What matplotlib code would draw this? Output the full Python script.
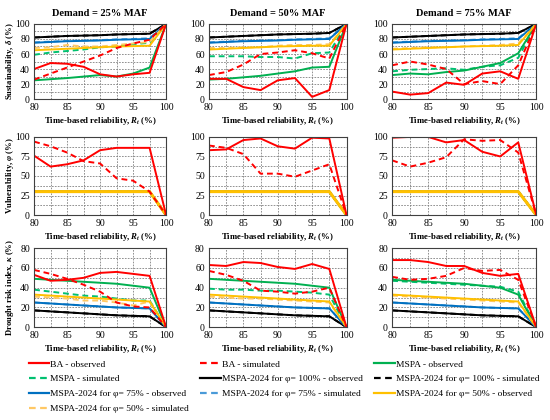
import numpy as np
import matplotlib
matplotlib.use('Agg')
import matplotlib.pyplot as plt
from matplotlib.lines import Line2D

plt.rcParams['font.family'] = ['Liberation Serif', 'DejaVu Serif']
plt.rcParams['mathtext.fontset'] = 'custom'
plt.rcParams['mathtext.rm'] = 'Liberation Serif:bold'
plt.rcParams['mathtext.it'] = 'Liberation Serif:italic:bold'
plt.rcParams['mathtext.bf'] = 'Liberation Serif:bold'

# reliability points (x axis)
rt = [80, 82.5, 85, 87.5, 90, 92.5, 95, 97.5, 100]
demands = ["25%", "50%", "75%"]

# ---- Sustainability (row 1), one list per demand ----
sus_ba_obs = [
    [40, 48, 47, 43, 33, 30, 33, 35, 100],
    [27, 27, 16, 12, 25, 28, 3, 12, 100],
    [10, 6, 8, 22, 19, 34, 37, 27, 100],
]
sus_ba_sim = [
    [26, 34, 42, 50, 58, 68, 74, 79, 100],
    [32, 36, 46, 60, 62, 65, 61, 54, 100],
    [45, 50, 46, 40, 20, 24, 20, 45, 100],
]
sus_mspa_obs = [
    [25, 26.5, 28, 30, 32, 30, 34, 42, 100],
    [26, 27, 29, 31, 34, 37, 42, 43, 100],
    [32, 34, 33, 36, 38, 43, 48, 61, 100],
]
sus_mspa_sim = [
    [59, 62, 64, 66, 69, 70, 73, 75, 100],
    [57, 57, 57, 56, 56, 54, 61, 62, 100],
    [37, 39, 40, 41, 39, 43, 45, 55, 100],
]
sus_p100_obs = [
    [82, 83, 84, 84.5, 85, 86, 86.5, 87, 100],
    [82, 83, 84, 85, 86, 86.5, 87, 88, 100],
    [82, 83, 84, 85, 86, 86.5, 87, 88, 100],
]
sus_p100_sim = [
    [82, 83, 84, 84.5, 85, 86, 86.5, 87, 100],
    [82, 83, 84, 85, 86, 86.5, 87, 88, 100],
    [82, 83, 84, 85, 86, 86.5, 87, 88, 100],
]
sus_p75_obs = [
    [75, 76, 77, 77.5, 78, 79, 79.5, 80, 100],
    [75, 76, 77, 77.5, 78, 79, 79.5, 80, 100],
    [75, 76, 77, 77.5, 78, 79, 79.5, 80, 100],
]
sus_p75_sim = [
    [75.5, 76.5, 77.5, 78, 78.5, 79.5, 80, 81, 100],
    [75.5, 76.5, 77.5, 78, 78.5, 79.5, 80, 81, 100],
    [75.5, 76.5, 77.5, 78, 78.5, 79.5, 80, 81, 100],
]
sus_p50_obs = [
    [65, 66, 67, 68, 69, 70, 70.5, 71, 100],
    [66, 67, 68, 69, 70, 70.5, 71, 71, 100],
    [66, 67, 68, 69, 70, 70.5, 71, 72, 100],
]
sus_p50_sim = [
    [68, 69, 72, 70, 70, 72, 74, 76, 100],
    [68, 68, 69, 69, 71, 72, 72, 73, 100],
    [67, 68, 69, 69, 70, 71, 72, 74, 100],
]

# ---- Vulnerability (row 2) ----
vul_ba_obs = [
    [76, 62, 65, 70, 83, 86, 86, 86, 0],
    [83, 84, 96, 98, 88, 85, 99, 98, 0],
    [99, 100, 100, 93, 96, 81, 75, 93, 0],
]
vul_ba_sim = [
    [94, 88, 80, 69, 66, 47, 44, 30, 0],
    [89, 86, 78, 53, 53, 49, 57, 65, 0],
    [70, 62, 67, 74, 97, 95, 96, 80, 0],
]
vul_mspa = [30, 30, 30, 30, 30, 30, 30, 30, 0]

# ---- Drought risk index (row 3) ----
dri_ba_obs = [
    [53, 47, 48, 50, 55, 56, 54, 52, 0],
    [63, 62, 66, 65, 61, 59, 64, 59, 0],
    [68, 68, 66, 62, 62, 55, 52, 54, 0],
]
dri_ba_sim = [
    [58, 54, 49, 43, 36, 25, 21, 20, 0],
    [57, 53, 47, 37, 36, 34, 36, 40, 0],
    [51, 48, 49, 52, 60, 57, 58, 48, 0],
]
dri_mspa_obs = [
    [49, 48, 47, 46, 45, 44, 42, 40, 0],
    [49, 48, 47, 46, 45, 44, 42, 40, 0],
    [48, 47, 46, 45, 44, 42, 40, 33, 0],
]
dri_mspa_sim = [
    [38, 36, 34, 32, 31, 29, 27, 27, 0],
    [39, 38, 38, 37, 37, 36, 35, 33, 0],
    [47, 46, 45, 44, 43, 42, 41, 36, 0],
]
dri_p100 = [17, 16, 15, 14, 13, 12, 11.5, 11, 0]
dri_p75 = [25, 24, 23, 22, 21, 20, 19.5, 19, 0]
dri_p50_obs = [33, 32, 31, 30, 29, 28, 27, 26, 0]
dri_p50_sim = [
    [31, 30, 29, 27, 27, 25, 22, 26, 0],
    [31, 30, 29, 29, 28, 27, 26, 25, 0],
    [32, 31, 30, 29, 28, 27, 26, 25, 0],
]

RED = "#FF0000"
GREEN = "#00B050"
BLACK = "#000000"
BLUE = "#0070C0"
ORANGE = "#FFC000"
GREEN_D = "#00C070"
BLUE_D = "#4A9AD8"
ORANGE_D = "#FFC864"

labels = [
    "BA - observed", "BA - simulated", "MSPA - observed", "MSPA - simulated",
    "MSPA-2024 for φ= 100% - observed", "MSPA-2024 for φ= 100% - simulated",
    "MSPA-2024 for φ= 75% - observed", "MSPA-2024 for φ= 75% - simulated",
    "MSPA-2024 for φ= 50% - observed", "MSPA-2024 for φ= 50% - simulated",
]
styles = [
    (RED, "-"), (RED, "--"), (GREEN, "-"), (GREEN_D, "--"),
    (BLACK, "-"), (BLACK, "--"), (BLUE, "-"), (BLUE_D, "--"),
    (ORANGE, "-"), (ORANGE_D, "--"),
]

fig = plt.figure(figsize=(5.5, 4.2), dpi=100)

lefts = [0.062, 0.380, 0.713]
widths = [0.240, 0.250, 0.262]
rows = [(0.764, 0.179), (0.488, 0.186), (0.221, 0.188)]


def draw(ax, series, top_lw=1.4):
    # MSPA first, then MSPA-2024 (orange on top), BA on top of everything
    for i in [3, 2, 5, 4, 7, 6, 9, 8, 1, 0]:
        c, ls = styles[i]
        lw = top_lw if i == 8 else 1.4
        ax.plot(rt, series[i], color=c, linestyle=ls, linewidth=lw,
                dashes=(3, 2) if ls == "--" else (None, None))


def style_ax(ax, ymax, ystep, ygrid, ylabel, col):
    ax.set_xlim(80, 100)
    ax.set_ylim(0, ymax)
    ax.set_xticks([80, 85, 90, 95, 100])
    ax.set_xticks(np.arange(80, 100.1, 2.5), minor=True)
    ax.set_yticks(np.arange(0, ymax + 0.1, ystep))
    ax.set_yticks(np.arange(0, ymax + 0.1, ygrid), minor=True)
    ax.grid(which="both", color="#808080", linestyle=(0, (2, 1.5)), linewidth=0.6)
    ax.set_axisbelow(True)
    ax.tick_params(which="both", length=0, labelsize=7, pad=3)
    for s in ax.spines.values():
        s.set_color("#404040")
        s.set_linewidth(0.8)
    ax.set_xlabel("Time-based reliability, $R_t$ (%)",
                  fontsize=6.3, fontweight="bold", labelpad=2)
    if col == 0:
        ax.set_ylabel(ylabel, fontsize=6.2, fontweight="bold")
        ax.yaxis.set_label_coords(-0.135, 0.5)


for c in range(3):
    # row 1: sustainability
    ax = fig.add_axes([lefts[c], rows[0][0], widths[c], rows[0][1]])
    draw(ax, [sus_ba_obs[c], sus_ba_sim[c], sus_mspa_obs[c], sus_mspa_sim[c],
              sus_p100_obs[c], sus_p100_sim[c], sus_p75_obs[c], sus_p75_sim[c],
              sus_p50_obs[c], sus_p50_sim[c]])
    style_ax(ax, 100, 20, 10, "Sustainability, $\\delta$ (%)", c)
    ax.set_title(f"Demand = {demands[c]} MAF", fontsize=7.5, fontweight="bold", pad=6)

    # row 2: vulnerability (all MSPA lines coincide, orange drawn on top)
    ax = fig.add_axes([lefts[c], rows[1][0], widths[c], rows[1][1]])
    draw(ax, [vul_ba_obs[c], vul_ba_sim[c], vul_mspa, vul_mspa,
              vul_mspa, vul_mspa, vul_mspa, vul_mspa, vul_mspa, vul_mspa],
         top_lw=2.2)
    style_ax(ax, 100, 25, 12.5, "Vulnerability, $\\varphi$ (%)", c)

    # row 3: drought risk index
    ax = fig.add_axes([lefts[c], rows[2][0], widths[c], rows[2][1]])
    draw(ax, [dri_ba_obs[c], dri_ba_sim[c], dri_mspa_obs[c], dri_mspa_sim[c],
              dri_p100, dri_p100, dri_p75, dri_p75, dri_p50_obs, dri_p50_sim[c]])
    style_ax(ax, 80, 20, 10, "Drought risk index, $\\kappa$ (%)", c)

handles = []
for (c, ls), lab in zip(styles, labels):
    handles.append(Line2D([], [], color=c, linestyle=ls, linewidth=1.6,
                          dashes=(3, 2) if ls == "--" else (None, None), label=lab))

# legend reads row by row in the reference
order = [0, 3, 6, 9, 1, 4, 7, 2, 5, 8]
fig.legend([handles[i] for i in order], [labels[i] for i in order],
           loc="upper left", bbox_to_anchor=(0.045, 0.152), ncol=3,
           frameon=False, fontsize=6.8, handlelength=2.2, handletextpad=0.1,
           columnspacing=1.2, labelspacing=0.66, borderaxespad=0)

plt.savefig("out.png", dpi=100, facecolor="white")
plt.close()
